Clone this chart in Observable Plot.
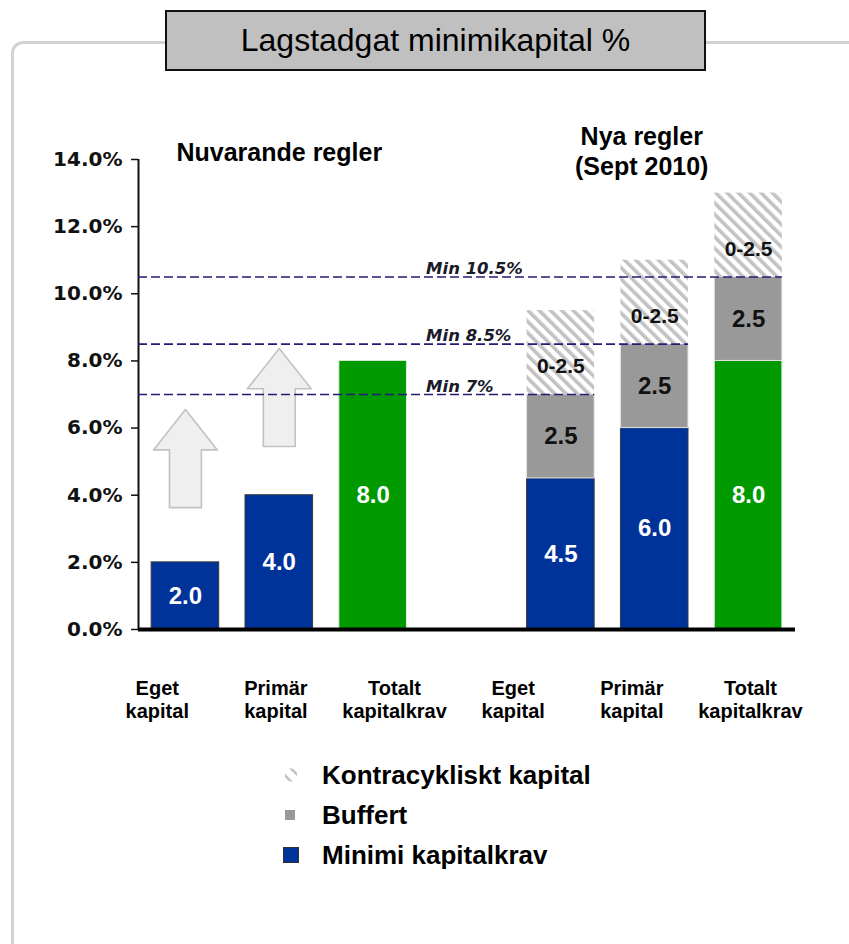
<!DOCTYPE html>
<html>
<head>
<meta charset="utf-8">
<script src="https://cdn.jsdelivr.net/npm/d3@7"></script>
<script src="https://cdn.jsdelivr.net/npm/@observablehq/plot@0.6"></script>
<style>
  body { margin: 0; background: #fff; }
  #wrap { position: relative; width: 849px; height: 944px; overflow: hidden; font-family: "Liberation Sans", Arial, sans-serif; }
  #frame { position: absolute; left: 11px; top: 41px; width: 900px; height: 1000px; border: 3px solid #d2d2d2; border-radius: 12px; box-sizing: border-box; }
  #chart { position: absolute; left: 0; top: 0; }
  #title { position: absolute; left: 165px; top: 10px; width: 541px; height: 61px; box-sizing: border-box; background: #c0c0c0; border: 2px solid #111; display: flex; align-items: center; justify-content: center; font-size: 32px; color: #000; }
  #legend { position: absolute; left: 283px; top: 755px; }
  .row { display: flex; align-items: center; height: 40px; font-weight: bold; font-size: 26px; color: #000; }
  .mk { width: 39px; height: 40px; position: relative; }
  .sw { position: absolute; top: 50%; transform: translateY(-50%); }
</style>
</head>
<body>
<div id="wrap">
  <div id="frame"></div>
  <div id="chart"></div>
  <div id="title">Lagstadgat minimikapital %</div>
  <div id="legend"></div>
</div>
<script>
// ---- data ----
const categories = ["Eget\nkapital", "Primär\nkapital", "Totalt\nkapitalkrav", "Eget\nkapital", "Primär\nkapital", "Totalt\nkapitalkrav"];
const groupOf = [0, 0, 0, 1, 1, 1];
const groupTitles = ["Nuvarande regler", "Nya regler\n(Sept 2010)"];
const minimiKapitalkrav = [2.0, 4.0, 8.0, 4.5, 6.0, 8.0];
const isTotal = [false, false, true, false, false, true];
const buffert = [0, 0, 0, 2.5, 2.5, 2.5];
const kontracykliskt = [0, 0, 0, 2.5, 2.5, 2.5];
const kontracyklisktLabel = "0-2.5";
const minLevels = [7, 8.5, 10.5];
const minLabels = ["Min 7%", "Min 8.5%", "Min 10.5%"];
const minLevelBar = [3, 4, 5];
const yTicks = [0, 2, 4, 6, 8, 10, 12, 14];
const arrowBar = [0, 1];
const arrowFrom = [3.63, 5.45];
const arrowTo = [6.55, 8.37];
const legendLabels = ["Kontracykliskt kapital", "Buffert", "Minimi kapitalkrav"];

// ---- layout helpers ----
const BLUE = "#003399", GREEN = "#009900", GRAY = "#999999";
const half = 0.36;
const slot = i => i + groupOf[i];           // leave one empty slot between groups
const cx = i => slot(i) + 0.5;

const bars = categories.map((c, i) => ({
  i, cx: cx(i),
  min: minimiKapitalkrav[i],
  buf: buffert[i],
  kon: kontracykliskt[i],
  total: isTotal[i]
}));

const baseSegs = bars.map(b => ({...b, y1: 0, y2: b.min, label: b.min.toFixed(1)}));
const bufSegs = bars.filter(b => b.buf > 0).map(b => ({...b, y1: b.min, y2: b.min + b.buf, label: b.buf.toFixed(1)}));
const konSegs = bars.filter(b => b.kon > 0).map(b => ({...b, y1: b.min + b.buf, y2: b.min + b.buf + b.kon, label: kontracyklisktLabel}));

const minData = minLevels.map((v, k) => ({v, label: minLabels[k], x2: cx(minLevelBar[k]) + half}));

const shaftHalf = 0.17, headHalf = 0.34, headLen = 1.2;
const arrowPts = [];
arrowBar.forEach((bi, k) => {
  const c = cx(bi), f = arrowFrom[k], t = arrowTo[k];
  const pts = [[c - shaftHalf, f], [c + shaftHalf, f], [c + shaftHalf, t - headLen], [c + headHalf, t - headLen],
               [c, t], [c - headHalf, t - headLen], [c - shaftHalf, t - headLen], [c - shaftHalf, f]];
  pts.forEach(([x, y]) => arrowPts.push({id: k, x, y}));
});

// category label row is spread evenly, slightly left of the bars as in the original
const labelFirst = 0.2, labelLast = 6.52;
const catLabels = categories.map((c, i) => ({text: c, x: labelFirst + i * (labelLast - labelFirst) / (categories.length - 1)}));

const groupData = groupTitles.map((t, g) => ({text: t, x: d3.mean(bars.filter(b => groupOf[b.i] === g), b => b.cx)}));

const VFONT = "DejaVu Sans";
const AFONT = "Liberation Sans";

const plot = Plot.plot({
  width: 849,
  height: 740,
  marginLeft: 138,
  marginRight: 54,
  marginTop: 159,
  marginBottom: 111,
  x: {domain: [0, 7], axis: null},
  y: {domain: [0, 14], axis: null},
  style: {background: "transparent", fontFamily: AFONT, overflow: "visible"},
  marks: [
    Plot.axisY(yTicks, {tickSize: 7, tickPadding: 9, tickFormat: d => d.toFixed(1) + "%", fontSize: 20, fontWeight: "bold", fontFamily: VFONT, fill: "#111", stroke: "#111", strokeWidth: 1.5}),
    Plot.ruleX([0], {y1: 0, y2: 14, stroke: "#111", strokeWidth: 2}),
    // arrows
    Plot.line(arrowPts, {x: "x", y: "y", z: "id", fill: "#efefef", stroke: "#c2c2c2", strokeWidth: 1.6, curve: "linear"}),
    // bars
    Plot.rect(baseSegs.filter(d => !d.total), {x1: d => d.cx - half, x2: d => d.cx + half, y1: "y1", y2: "y2", fill: BLUE, stroke: "#3a3a3a", strokeWidth: 1}),
    Plot.rect(baseSegs.filter(d => d.total), {x1: d => d.cx - half, x2: d => d.cx + half, y1: "y1", y2: "y2", fill: GREEN, stroke: "#d8ecd8", strokeWidth: 1}),
    Plot.rect(bufSegs, {x1: d => d.cx - half, x2: d => d.cx + half, y1: "y1", y2: "y2", fill: GRAY, stroke: "#e4e4e4", strokeWidth: 1}),
    Plot.rect(konSegs, {x1: d => d.cx - half, x2: d => d.cx + half, y1: "y1", y2: "y2", fill: "url(#hatchPattern)"}),
    // min lines
    Plot.ruleY(minData, {y: "v", x1: 0, x2: "x2", stroke: "#261a78", strokeWidth: 1.6, strokeDasharray: "9,4"}),
    Plot.text(minData, {x: 3, y: "v", text: "label", textAnchor: "start", lineAnchor: "bottom", dx: 6, dy: -3, fontStyle: "italic", fontWeight: "bold", fontFamily: VFONT, fontSize: 16.5, fill: "#1a1a2a"}),
    // value labels
    Plot.text(baseSegs, {x: "cx", y: d => (d.y1 + d.y2) / 2, text: "label", fill: "white", fontWeight: "bold", fontSize: 24, fontFamily: AFONT}),
    Plot.text(bufSegs, {x: "cx", y: d => (d.y1 + d.y2) / 2, text: "label", fill: "#111", fontWeight: "bold", fontSize: 24, fontFamily: AFONT}),
    Plot.text(konSegs, {x: "cx", y: d => (d.y1 + d.y2) / 2, dy: 14, text: "label", fill: "#111", fontWeight: "bold", fontSize: 21, fontFamily: AFONT}),
    // baseline
    Plot.ruleY([0], {x1: 0, x2: 7, stroke: "#000", strokeWidth: 4}),
    // category labels
    Plot.text(catLabels, {x: "x", frameAnchor: "bottom", text: "text", lineAnchor: "middle", dy: 70, lineHeight: 1.15, fontSize: 20, fontWeight: "bold", fontFamily: AFONT, fill: "#000"}),
    // group titles
    Plot.text([groupData[0]], {x: "x", frameAnchor: "top", text: "text", lineAnchor: "bottom", dy: 1, fontSize: 25, fontWeight: "bold", fontFamily: AFONT, fill: "#000"}),
    Plot.text([groupData[1]], {x: "x", frameAnchor: "top", text: "text", lineAnchor: "bottom", dx: -13, dy: 15, lineHeight: 1.2, fontSize: 25, fontWeight: "bold", fontFamily: AFONT, fill: "#000"})
  ]
});

// hatch pattern definition
const svg = d3.select(plot);
const defs = svg.insert("defs", ":first-child");
const pat = defs.append("pattern").attr("id", "hatchPattern").attr("patternUnits", "userSpaceOnUse")
  .attr("width", 8).attr("height", 8).attr("patternTransform", "rotate(-45)");
pat.append("rect").attr("width", 8).attr("height", 8).attr("fill", "#fff");
pat.append("rect").attr("width", 3.6).attr("height", 8).attr("fill", "#c2c2c2");

document.getElementById("chart").appendChild(plot);

// legend
const legend = d3.select("#legend");
const swatches = [
  {w: 12, h: 13, bg: "repeating-linear-gradient(45deg, #fff 0 3px, #c8c8c8 3px 6px, #fff 6px 9px)", border: "none", left: 2},
  {w: 10, h: 10, bg: GRAY, border: "none", left: 2},
  {w: 14, h: 14, bg: BLUE, border: "1px solid #333", left: 0}
];
legendLabels.forEach((t, k) => {
  const row = legend.append("div").attr("class", "row");
  row.append("div").attr("class", "mk").append("div").attr("class", "sw")
    .style("width", swatches[k].w + "px").style("height", swatches[k].h + "px")
    .style("left", swatches[k].left + "px")
    .style("background", swatches[k].bg).style("border", swatches[k].border);
  row.append("div").text(t);
});
</script>
</body>
</html>
